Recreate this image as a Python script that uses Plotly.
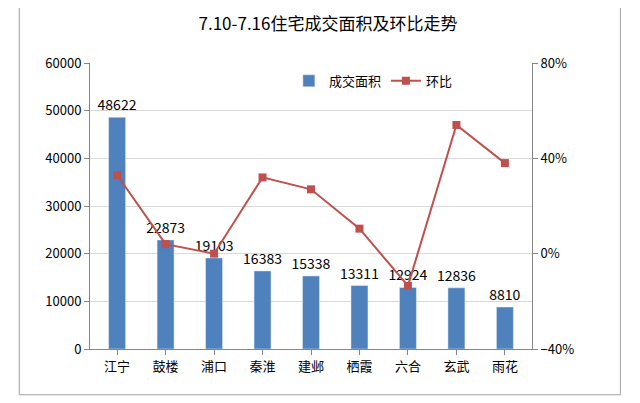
import plotly.graph_objects as go

districts = ['江宁', '鼓楼', '浦口', '秦淮', '建邺', '栖霞', '六合', '玄武', '雨花']
area = [48622, 22873, 19103, 16383, 15338, 13311, 12924, 12836, 8810]
ratio = [0.33, 0.04, 0.0, 0.32, 0.27, 0.105, -0.135, 0.54, 0.38]

fig = go.Figure()
fig.add_trace(go.Bar(x=districts, y=area, name='成交面积', marker_color='#4F81BD',
                     width=0.35, text=[str(v) for v in area], textposition='outside',
                     constraintext='none',
                     textfont=dict(size=14, color='black'), cliponaxis=False))
fig.add_trace(go.Scatter(x=districts, y=ratio, name='环比', yaxis='y2', mode='lines+markers',
                         line=dict(color='#C0504D', width=2),
                         marker=dict(symbol='square', size=8, color='#C0504D')))

fig.update_layout(
    width=640, height=403,
    font=dict(family='Noto Sans CJK SC', size=13, color='black'),
    title=dict(text='7.10-7.16住宅成交面积及环比走势', x=0.5, y=0.96, yanchor='middle',
               font=dict(size=17)),
    plot_bgcolor='white', paper_bgcolor='white',
    margin=dict(l=82, r=116, t=55, b=62),
    showlegend=True,
    legend=dict(orientation='h', x=0.45, y=0.99, xanchor='left', font=dict(size=13)),
    xaxis=dict(showline=True, linecolor='#868686', ticks='outside', tickcolor='#868686'),
    yaxis=dict(range=[0, 60000], dtick=10000, showgrid=True, gridcolor='#D9D9D9',
               tickformat='d',
               showline=True, linecolor='#868686', ticks='outside', tickcolor='#868686'),
    yaxis2=dict(range=[-0.4, 0.8], dtick=0.4, tickformat='.0%', overlaying='y', side='right',
                showgrid=False, showline=True, linecolor='#868686', ticks='outside',
                tickcolor='#868686', zeroline=False),
    shapes=[dict(type='rect', xref='paper', yref='paper', x0=-0.16, x1=1.2, y0=-0.16, y1=1.2,
                 line=dict(color='#A0A0A0', width=1))],
)
fig.write_html('out.html')
